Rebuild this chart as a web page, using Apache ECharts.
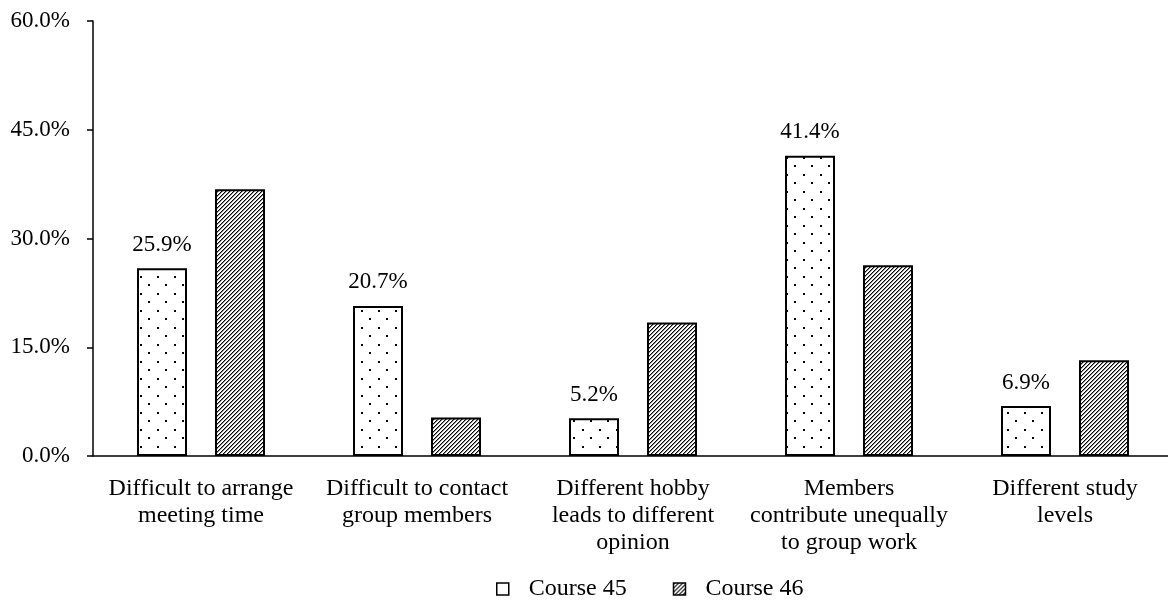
<!DOCTYPE html>
<html>
<head>
<meta charset="utf-8">
<script src="https://cdn.jsdelivr.net/npm/echarts@6/dist/echarts.min.js"></script>
<style>
  html, body { margin: 0; padding: 0; background: #fff; }
  #chart { width: 1168px; height: 601px; }
</style>
</head>
<body>
<div id="chart"></div>
<script>
// data
const categories = [
  "Difficult to arrange\nmeeting time",
  "Difficult to contact\ngroup members",
  "Different hobby\nleads to different\nopinion",
  "Members\ncontribute unequally\nto group work",
  "Different study\nlevels"
];
const seriesNames = ["Course 45", "Course 46"];
const course45 = [25.9, 20.7, 5.2, 41.4, 6.9];
const course46 = [36.8, 5.3, 18.4, 26.3, 13.2];
const yTicks = [0, 15, 30, 45, 60];

const FONT = "'Liberation Serif', 'Times New Roman', serif";

// fill patterns: sparse dots and upward diagonal hatch
function dotPattern() {
  const c = document.createElement("canvas");
  c.width = 17; c.height = 17;
  const ctx = c.getContext("2d");
  ctx.fillStyle = "#fff";
  ctx.fillRect(0, 0, 17, 17);
  ctx.fillStyle = "#000";
  ctx.fillRect(4, 4, 2, 2);
  ctx.fillRect(12, 12, 2, 2);
  return c;
}

function hatchPattern() {
  const c = document.createElement("canvas");
  c.width = 8; c.height = 8;
  const ctx = c.getContext("2d");
  const img = ctx.createImageData(8, 8);
  for (let y = 0; y < 8; y++) {
    for (let x = 0; x < 8; x++) {
      const k = (x + y) % 4;
      const v = k === 0 ? 0 : (k === 1 ? 140 : 255);
      const i = (y * 8 + x) * 4;
      img.data[i] = v; img.data[i + 1] = v; img.data[i + 2] = v; img.data[i + 3] = 255;
    }
  }
  ctx.putImageData(img, 0, 0);
  return c;
}

const chart = echarts.init(document.getElementById("chart"));

chart.setOption({
  animation: false,
  backgroundColor: "#fff",
  textStyle: { fontFamily: FONT, color: "#000" },
  grid: { left: 93, top: 21, width: 1080, bottom: 145, outerBoundsMode: "none" },
  legend: {
    data: [
      { name: seriesNames[0], itemStyle: { color: "#fff" } },
      { name: seriesNames[1] }
    ],
    left: 496,
    top: 577,
    padding: 0,
    icon: "rect",
    itemWidth: 12,
    itemHeight: 12,
    itemGap: 46,
    itemStyle: { borderColor: "#000", borderWidth: 1.5 },
    textStyle: { fontFamily: FONT, fontSize: 24, color: "#000", padding: [0, 0, 0, 15] }
  },
  xAxis: {
    type: "category",
    data: categories,
    axisLine: { lineStyle: { color: "#000", width: 1.5 } },
    axisTick: { length: 6, lineStyle: { color: "#000", width: 1.5 } },
    axisLabel: {
      interval: 0,
      margin: 19,
      fontFamily: FONT,
      fontSize: 24,
      lineHeight: 27,
      color: "#000"
    }
  },
  yAxis: {
    type: "value",
    min: yTicks[0],
    max: yTicks[yTicks.length - 1],
    interval: yTicks[1] - yTicks[0],
    splitLine: { show: false },
    axisLine: { show: true, lineStyle: { color: "#000", width: 1.5 } },
    axisTick: { show: true, length: 6, lineStyle: { color: "#000", width: 1.5 } },
    axisLabel: {
      margin: 23,
      fontFamily: FONT,
      fontSize: 23,
      color: "#000",
      formatter: v => v.toFixed(1) + "%"
    }
  },
  series: [
    {
      name: seriesNames[0],
      type: "bar",
      data: course45,
      barWidth: 50,
      barGap: "56%",
      itemStyle: {
        color: { image: dotPattern(), repeat: "repeat" },
        borderColor: "#000",
        borderWidth: 2
      },
      label: {
        show: true,
        position: "top",
        distance: 12,
        fontFamily: FONT,
        fontSize: 23,
        color: "#000",
        formatter: p => p.value.toFixed(1) + "%"
      }
    },
    {
      name: seriesNames[1],
      type: "bar",
      data: course46,
      barWidth: 50,
      barGap: "56%",
      itemStyle: {
        color: { image: hatchPattern(), repeat: "repeat" },
        borderColor: "#000",
        borderWidth: 2
      }
    }
  ]
});
</script>
</body>
</html>
